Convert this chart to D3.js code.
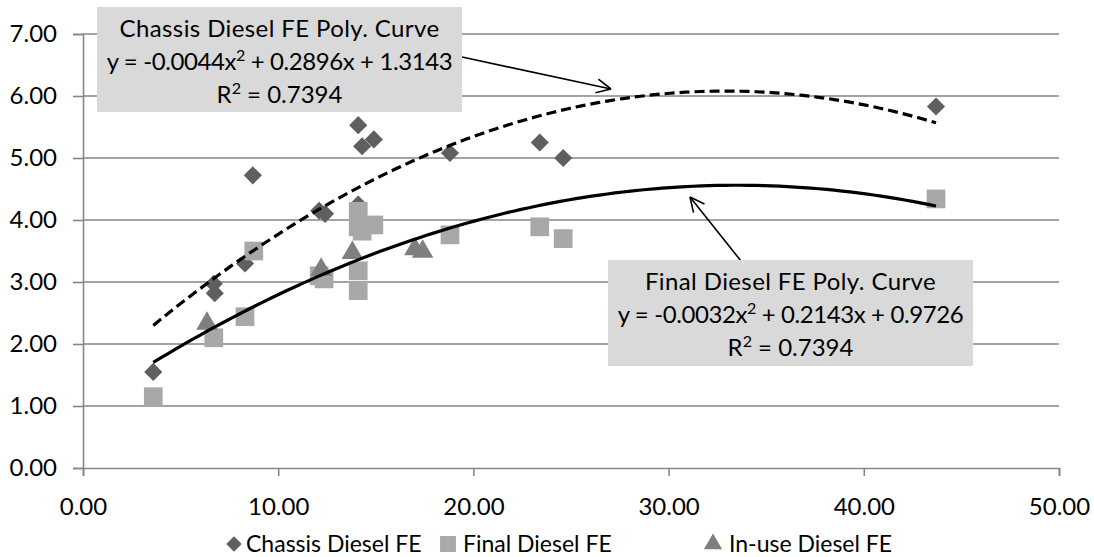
<!DOCTYPE html>
<html>
<head>
<meta charset="utf-8">
<script src="https://cdn.jsdelivr.net/npm/d3@7"></script>
<style>
  html, body { margin: 0; padding: 0; background: #fff; }
  svg { display: block; font-family: Lato, "Open Sans", sans-serif; }
</style>
</head>
<body>
<svg id="chart" width="1094" height="557"></svg>
<script>
// Vehicle speed (x) vs. diesel fuel economy (y)
const chassisX = [3.6, 6.7, 6.75, 8.3, 8.7, 12.1, 12.4, 14.1, 14.1, 14.3, 14.9, 18.8, 23.4, 24.6, 43.7];
const chassisY = [1.55, 2.97, 2.82, 3.30, 4.72, 4.15, 4.10, 5.53, 4.25, 5.19, 5.30, 5.08, 5.25, 5.00, 5.83];

const finalX = [3.6, 6.7, 8.3, 8.75, 12.1, 12.35, 14.1, 14.1, 14.3, 14.1, 14.1, 14.9, 18.8, 23.4, 24.6, 43.7];
const finalY = [1.15, 2.10, 2.44, 3.50, 3.10, 3.05, 4.14, 3.89, 3.82, 3.18, 2.86, 3.92, 3.76, 3.89, 3.70, 4.34];

const inuseX = [6.35, 12.2, 13.8, 17.0, 17.4];
const inuseY = [2.33, 3.20, 3.47, 3.53, 3.49];

// Polynomial trendline coefficients [a, b, c] for y = a x^2 + b x + c
const chassisFit = [-0.0044, 0.2896, 1.3143];
const finalFit = [-0.0032, 0.2143, 0.9726];
const rSquared = ["0.7394", "0.7394"];

const xTicks = [0, 10, 20, 30, 40, 50];
const yTicks = [0, 1, 2, 3, 4, 5, 6, 7];
const seriesNames = ["Chassis Diesel FE", "Final Diesel FE", "In-use Diesel FE"];

const svg = d3.select("#chart");
const x = d3.scaleLinear().domain([0, 50]).range([83, 1059]);
const y = d3.scaleLinear().domain([0, 7]).range([468, 34]);

const gridColor = "#868686";
const cDiamond = "#5f5f5f", cSquare = "#a8a8a8", cTri = "#7f7f7f";

// horizontal gridlines
svg.append("g").selectAll("line").data(yTicks.filter(d => d > 0)).join("line")
  .attr("x1", x(0)).attr("x2", x(50))
  .attr("y1", d => y(d)).attr("y2", d => y(d))
  .attr("stroke", gridColor).attr("stroke-width", 1.6);

// y axis
const yAxis = svg.append("g").attr("transform", `translate(${x(0)},0)`)
  .call(d3.axisLeft(y).tickValues(yTicks).tickFormat(d3.format(".2f")).tickSize(10).tickPadding(16));
yAxis.select(".domain").attr("stroke", gridColor).attr("stroke-width", 1.6);
yAxis.selectAll(".tick line").attr("stroke", gridColor).attr("stroke-width", 1.6);
yAxis.selectAll("text").attr("font-size", 24).attr("fill", "#000").attr("font-family", "Lato");

// x axis
const xAxis = svg.append("g").attr("transform", `translate(0,${y(0)})`)
  .call(d3.axisBottom(x).tickValues(xTicks).tickFormat(d3.format(".2f")).tickSize(8).tickPadding(22));
xAxis.select(".domain").attr("stroke", gridColor).attr("stroke-width", 1.6);
xAxis.selectAll(".tick line").attr("stroke", gridColor).attr("stroke-width", 1.6);
xAxis.selectAll("text").attr("font-size", 24).attr("fill", "#000").attr("font-family", "Lato");

// markers
const diamond = d3.symbol().type(d3.symbolDiamond2).size(210)();
const square = d3.symbol().type(d3.symbolSquare).size(350)();
const triangle = d3.symbol().type(d3.symbolTriangle).size(200)();

function plotSeries(xs, ys, path, fill) {
  svg.append("g").selectAll("path").data(xs.map((v, i) => [v, ys[i]])).join("path")
    .attr("d", path)
    .attr("transform", d => `translate(${x(d[0])},${y(d[1])})`)
    .attr("fill", fill);
}
plotSeries(chassisX, chassisY, diamond, cDiamond);
plotSeries(finalX, finalY, square, cSquare);
plotSeries(inuseX, inuseY, triangle, cTri);

// trendlines
function fitCurve(coef, x0, x1) {
  return d3.range(0, 101).map(i => {
    const v = x0 + (x1 - x0) * i / 100;
    return [v, coef[0] * v * v + coef[1] * v + coef[2]];
  });
}
const line = d3.line().x(d => x(d[0])).y(d => y(d[1]));
svg.append("path").datum(fitCurve(chassisFit, d3.min(chassisX), d3.max(chassisX)))
  .attr("d", line).attr("fill", "none").attr("stroke", "#000")
  .attr("stroke-width", 3.2).attr("stroke-dasharray", "10,5");
svg.append("path").datum(fitCurve(finalFit, d3.min(finalX), d3.max(finalX)))
  .attr("d", line).attr("fill", "none").attr("stroke", "#000")
  .attr("stroke-width", 3.2);

// callouts
function fmt(v) { return (v < 0 ? "-" : "") + Math.abs(v).toFixed(4); }
function sup(sel) {
  sel.append("tspan").attr("dy", -9).attr("font-size", 16).text("2");
}
function callout(box, title, coef, r2, from, to) {
  const g = svg.append("g");
  // leader with open arrowhead
  g.append("line").attr("x1", from[0]).attr("y1", from[1]).attr("x2", to[0]).attr("y2", to[1])
    .attr("stroke", "#000").attr("stroke-width", 1.6);
  const ang = Math.atan2(to[1] - from[1], to[0] - from[0]);
  const L = 16, spread = 0.45;
  [ang + Math.PI - spread, ang + Math.PI + spread].forEach(a => {
    g.append("line").attr("x1", to[0]).attr("y1", to[1])
      .attr("x2", to[0] + L * Math.cos(a)).attr("y2", to[1] + L * Math.sin(a))
      .attr("stroke", "#000").attr("stroke-width", 1.6);
  });
  g.append("rect").attr("x", box[0]).attr("y", box[1]).attr("width", box[2]).attr("height", box[3])
    .attr("fill", "#d9d9d9");
  const cx = box[0] + box[2] / 2;
  const t = g.append("g").attr("font-size", 24).attr("fill", "#000").attr("text-anchor", "middle");
  t.append("text").attr("x", cx).attr("y", box[1] + 30).attr("letter-spacing", 0.4).text(title);
  const eq = t.append("text").attr("x", cx).attr("y", box[1] + 63).attr("letter-spacing", -0.4);
  eq.append("tspan").text(`y = ${fmt(coef[0])}x`);
  sup(eq);
  eq.append("tspan").attr("dy", 9).text(` + ${fmt(coef[1])}x + ${fmt(coef[2])}`);
  const r = t.append("text").attr("x", cx).attr("y", box[1] + 96);
  r.append("tspan").text("R");
  sup(r);
  r.append("tspan").attr("dy", 9).text(` = ${r2}`);
}
callout([97, 7, 365, 105], "Chassis Diesel FE Poly. Curve", chassisFit, rSquared[0],
  [462, 57], [611, 89]);
callout([608, 260, 365, 106], "Final Diesel FE Poly. Curve", finalFit, rSquared[1],
  [741, 261], [690, 197]);

// legend
const legend = svg.append("g").attr("font-size", 23).attr("fill", "#000");
const legendItems = [
  { name: seriesNames[0], mark: diamond, fill: cDiamond, mx: 234, tx: 246 },
  { name: seriesNames[1], mark: square, fill: cSquare, mx: 448, tx: 463 },
  { name: seriesNames[2], mark: triangle, fill: cTri, mx: 713, tx: 729 }
];
legendItems.forEach(it => {
  legend.append("path").attr("d", it.mark).attr("fill", it.fill)
    .attr("transform", `translate(${it.mx},544) scale(0.85)`);
  legend.append("text").attr("x", it.tx).attr("y", 552).text(it.name);
});
</script>
</body>
</html>
